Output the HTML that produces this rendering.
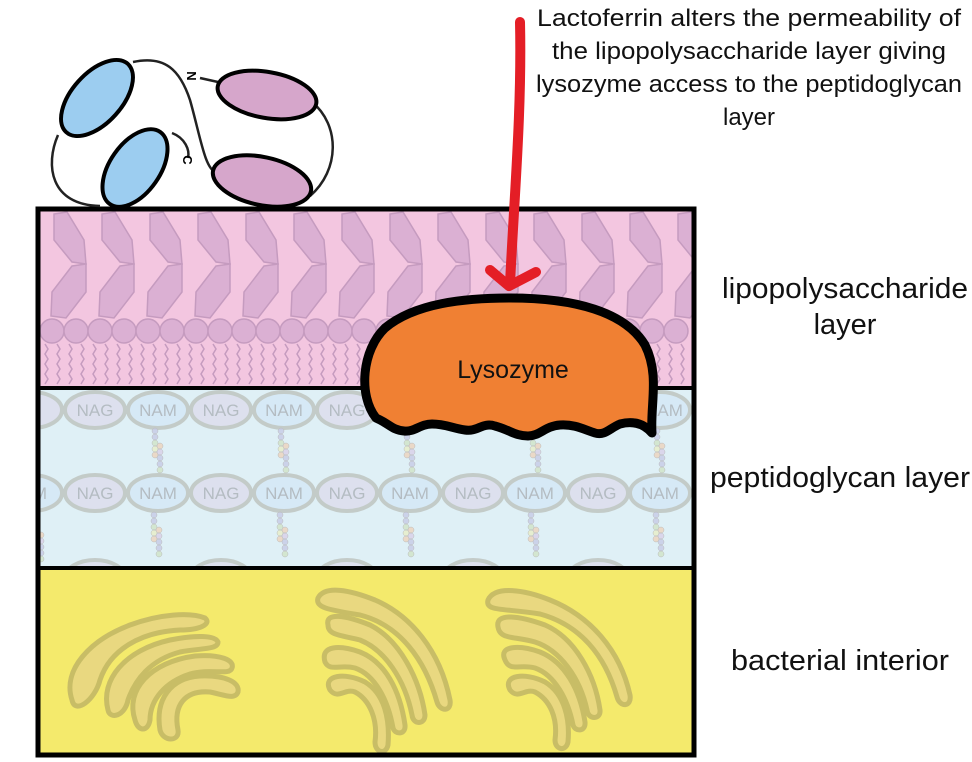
<!DOCTYPE html>
<html><head><meta charset="utf-8"><style>
html,body{margin:0;padding:0;background:#fff;}
svg{display:block;font-family:"Liberation Sans",sans-serif;}
</style></head><body>
<svg width="972" height="762" viewBox="0 0 972 762" xmlns="http://www.w3.org/2000/svg">
<defs>
<clipPath id="box"><rect x="38" y="209" width="656" height="546"/></clipPath>
<g id="col">
<path d="M6,214 L19,212 L36,240 L38,264 L24,262 L6,240 Z" fill="#dbb0d3" stroke="#c59bbf" stroke-width="1.5"/>
<path d="M24,266 L38,264 L38,292 L18,318 L3,316 L4,292 Z" fill="#dbb0d3" stroke="#c59bbf" stroke-width="1.5"/>
</g>
<g id="tail"><path d="M0,344 l3,5 l-3,5 l3,5 l-3,5 l3,5 l-3,5 l3,5 l-3,5" fill="none" stroke="#c59bbf" stroke-width="1.5"/></g>
<g id="beads" fill-opacity="0.8" stroke="#bbb" stroke-width="0.5">
<circle cx="0" cy="0" r="3" fill="#c6cbe6"/><circle cx="0" cy="6" r="3" fill="#c6cbe6"/><circle cx="0" cy="12" r="3" fill="#cfe3c7"/><circle cx="0" cy="18" r="3" fill="#e7edc7"/><circle cx="5" cy="15" r="3" fill="#ecd3bd"/><circle cx="0" cy="24" r="3" fill="#ecd3bd"/><circle cx="5" cy="21" r="3" fill="#d8d0e8"/><circle cx="5" cy="27" r="3" fill="#c6cbe6"/><circle cx="5" cy="33" r="3" fill="#c6cbe6"/><circle cx="5" cy="39" r="3" fill="#cfe3c7"/>
</g>
</defs>
<g clip-path="url(#box)">
<rect x="36" y="207" width="660" height="181" fill="#f3c6e0"/>
<g>
<use href="#col" x="48"/><use href="#col" x="96"/><use href="#col" x="144"/><use href="#col" x="192"/><use href="#col" x="240"/><use href="#col" x="288"/><use href="#col" x="336"/><use href="#col" x="384"/><use href="#col" x="432"/><use href="#col" x="480"/><use href="#col" x="528"/><use href="#col" x="576"/><use href="#col" x="624"/><use href="#col" x="672"/>
</g>
<g fill="#dbb0d3" stroke="#c59bbf" stroke-width="1.5">
<circle cx="52" cy="331" r="12"/><circle cx="76" cy="331" r="12"/><circle cx="100" cy="331" r="12"/><circle cx="124" cy="331" r="12"/><circle cx="148" cy="331" r="12"/><circle cx="172" cy="331" r="12"/><circle cx="196" cy="331" r="12"/><circle cx="220" cy="331" r="12"/><circle cx="244" cy="331" r="12"/><circle cx="268" cy="331" r="12"/><circle cx="292" cy="331" r="12"/><circle cx="316" cy="331" r="12"/><circle cx="340" cy="331" r="12"/><circle cx="364" cy="331" r="12"/><circle cx="388" cy="331" r="12"/><circle cx="412" cy="331" r="12"/><circle cx="436" cy="331" r="12"/><circle cx="460" cy="331" r="12"/><circle cx="484" cy="331" r="12"/><circle cx="508" cy="331" r="12"/><circle cx="532" cy="331" r="12"/><circle cx="556" cy="331" r="12"/><circle cx="580" cy="331" r="12"/><circle cx="604" cy="331" r="12"/><circle cx="628" cy="331" r="12"/><circle cx="652" cy="331" r="12"/><circle cx="676" cy="331" r="12"/>
</g>
<g>
<use href="#tail" x="45"/><use href="#tail" x="57"/><use href="#tail" x="69"/><use href="#tail" x="81"/><use href="#tail" x="93"/><use href="#tail" x="105"/><use href="#tail" x="117"/><use href="#tail" x="129"/><use href="#tail" x="141"/><use href="#tail" x="153"/><use href="#tail" x="165"/><use href="#tail" x="177"/><use href="#tail" x="189"/><use href="#tail" x="201"/><use href="#tail" x="213"/><use href="#tail" x="225"/><use href="#tail" x="237"/><use href="#tail" x="249"/><use href="#tail" x="261"/><use href="#tail" x="273"/><use href="#tail" x="285"/><use href="#tail" x="297"/><use href="#tail" x="309"/><use href="#tail" x="321"/><use href="#tail" x="333"/><use href="#tail" x="345"/><use href="#tail" x="357"/><use href="#tail" x="657"/><use href="#tail" x="669"/><use href="#tail" x="681"/>
</g>
<rect x="36" y="388" width="660" height="180" fill="#dff0f6"/>
<g stroke="#c3cbc8" stroke-width="4">
<ellipse cx="32" cy="410" rx="30" ry="18" fill="#dde0ee"/>
<ellipse cx="95" cy="410" rx="30" ry="18" fill="#dde0ee"/>
<ellipse cx="158" cy="410" rx="30" ry="18" fill="#d6e9f6"/>
<ellipse cx="221" cy="410" rx="30" ry="18" fill="#dde0ee"/>
<ellipse cx="284" cy="410" rx="30" ry="18" fill="#d6e9f6"/>
<ellipse cx="347" cy="410" rx="30" ry="18" fill="#dde0ee"/>
<ellipse cx="660" cy="410" rx="30" ry="18" fill="#d6e9f6"/>
<ellipse cx="32" cy="493" rx="30" ry="18" fill="#d6e9f6"/>
<ellipse cx="95" cy="493" rx="30" ry="18" fill="#dde0ee"/>
<ellipse cx="158" cy="493" rx="30" ry="18" fill="#d6e9f6"/>
<ellipse cx="221" cy="493" rx="30" ry="18" fill="#dde0ee"/>
<ellipse cx="284" cy="493" rx="30" ry="18" fill="#d6e9f6"/>
<ellipse cx="347" cy="493" rx="30" ry="18" fill="#dde0ee"/>
<ellipse cx="410" cy="493" rx="30" ry="18" fill="#d6e9f6"/>
<ellipse cx="473" cy="493" rx="30" ry="18" fill="#dde0ee"/>
<ellipse cx="535" cy="493" rx="30" ry="18" fill="#d6e9f6"/>
<ellipse cx="598" cy="493" rx="30" ry="18" fill="#dde0ee"/>
<ellipse cx="660" cy="493" rx="30" ry="18" fill="#d6e9f6"/>
<ellipse cx="95" cy="578" rx="30" ry="18" fill="#dde0ee"/>
<ellipse cx="221" cy="578" rx="30" ry="18" fill="#dde0ee"/>
<ellipse cx="347" cy="578" rx="30" ry="18" fill="#dde0ee"/>
<ellipse cx="473" cy="578" rx="30" ry="18" fill="#dde0ee"/>
<ellipse cx="598" cy="578" rx="30" ry="18" fill="#dde0ee"/>
</g>
<g fill="#b4bcc2" font-size="17" text-anchor="middle">
<text x="95" y="416">NAG</text><text x="158" y="416">NAM</text><text x="221" y="416">NAG</text><text x="284" y="416">NAM</text><text x="347" y="416">NAG</text><text x="664" y="416">NAM</text>
<text x="95" y="499">NAG</text><text x="158" y="499">NAM</text><text x="221" y="499">NAG</text><text x="284" y="499">NAM</text><text x="347" y="499">NAG</text><text x="410" y="499">NAM</text><text x="473" y="499">NAG</text><text x="535" y="499">NAM</text><text x="598" y="499">NAG</text><text x="660" y="499">NAM</text>
<text x="40" y="499">M</text>
</g>
<g>
<use href="#beads" x="155" y="431"/><use href="#beads" x="281" y="431"/><use href="#beads" x="407" y="431"/><use href="#beads" x="533" y="431"/><use href="#beads" x="657" y="431"/>
<use href="#beads" x="154" y="515"/><use href="#beads" x="280" y="515"/><use href="#beads" x="406" y="515"/><use href="#beads" x="531" y="515"/><use href="#beads" x="656" y="515"/><use href="#beads" x="36" y="520"/>
</g>
<rect x="36" y="568" width="660" height="189" fill="#f4ea6c"/>
<g fill="#e9d880" stroke="#c8bd66" stroke-width="5" stroke-linejoin="round">
<path d="M72,700 C62,670 90,640 130,625 C160,614 190,612 205,618 C212,624 200,630 180,630 C140,632 110,650 100,680 C95,700 75,715 72,700 Z"/>
<path d="M108,710 C100,680 125,650 170,640 C195,635 215,635 218,642 C218,650 200,648 180,652 C150,660 135,680 128,700 C125,716 110,720 108,710 Z"/>
<path d="M135,720 C125,690 150,662 195,656 C220,654 235,660 232,668 C230,676 210,668 190,674 C165,682 150,700 150,720 C148,732 138,732 135,720 Z"/>
<path d="M160,730 C155,700 170,678 200,676 C225,675 240,682 238,692 C235,700 225,695 210,692 C185,690 173,705 178,730 C180,742 163,742 160,730 Z"/>
<path d="M318,598 C325,585 350,590 375,600 C410,615 440,650 450,700 C452,712 440,712 437,702 C425,660 400,625 360,615 C330,610 315,608 318,598 Z"/>
<path d="M328,625 C325,612 345,615 370,625 C400,640 420,680 425,715 C425,725 413,725 412,715 C405,680 385,650 360,640 C340,635 328,635 328,625 Z"/>
<path d="M325,662 C320,645 340,645 360,652 C385,662 400,690 405,725 C406,735 395,735 393,728 C388,700 375,675 355,668 C340,664 330,672 325,662 Z"/>
<path d="M330,690 C322,675 345,672 365,682 C385,694 390,720 388,745 C386,755 375,753 375,742 C378,720 370,700 355,692 C345,688 338,700 330,690 Z"/>
<path d="M488,600 C495,585 525,590 550,600 C590,616 620,650 630,695 C632,707 620,708 617,697 C605,655 580,625 540,614 C505,608 485,612 488,600 Z"/>
<path d="M498,627 C495,612 520,616 545,625 C575,638 595,675 600,710 C601,720 588,720 587,710 C580,678 560,650 535,642 C515,636 500,640 498,627 Z"/>
<path d="M505,660 C498,645 520,645 540,652 C565,662 580,690 585,722 C586,732 575,732 573,725 C568,700 555,675 535,668 C520,664 510,672 505,660 Z"/>
<path d="M510,690 C502,675 525,672 545,682 C565,694 570,720 568,742 C566,752 555,750 555,740 C558,718 550,700 535,692 C525,688 518,700 510,690 Z"/>
</g>
</g>
<line x1="36" y1="388" x2="696" y2="388" stroke="#000" stroke-width="4"/>
<line x1="36" y1="568" x2="696" y2="568" stroke="#000" stroke-width="4"/>
<rect x="38" y="209" width="656" height="546" fill="none" stroke="#000" stroke-width="5"/>
<path d="M376,418 C358,395 362,350 385,328 C415,303 465,298 510,298 C575,298 625,312 645,345 C660,375 650,405 652,433 C645,425 635,420 620,424 C610,428 605,436 595,433 C585,430 575,424 560,425 C545,426 540,436 528,436 C515,436 510,430 495,426 C482,422 478,432 465,430 C452,428 445,424 432,424 C420,424 415,432 404,431 C392,430 390,424 376,418 Z" fill="#f08033" stroke="#000" stroke-width="9" stroke-linejoin="round"/>
<text x="513" y="378" font-size="25" text-anchor="middle" fill="#111">Lysozyme</text>
<path d="M520,22 C522,110 514,200 510,284" fill="none" stroke="#e41e26" stroke-width="10" stroke-linecap="round"/>
<path d="M490,270 L509,286 L536,272" fill="none" stroke="#e41e26" stroke-width="10" stroke-linecap="round" stroke-linejoin="round"/>
<g fill="none" stroke="#222" stroke-width="2.5">
<path d="M133,62 C165,55 180,70 190,100 C200,135 205,170 216,172"/>
<path d="M58,135 C45,165 50,205 100,206"/>
<path d="M172,133 C185,138 190,150 188,158"/>
<path d="M312,102 C340,125 340,170 310,196"/>
<path d="M200,78 L218,82"/>
</g>
<g stroke="#000" stroke-width="4">
<ellipse cx="97" cy="98" rx="46" ry="25" transform="rotate(-48 97 98)" fill="#9ccdf0"/>
<ellipse cx="135" cy="168" rx="44" ry="25" transform="rotate(-55 135 168)" fill="#9ccdf0"/>
<ellipse cx="267" cy="95" rx="50" ry="23" transform="rotate(10 267 95)" fill="#d6a6cb"/>
<ellipse cx="262" cy="181" rx="50" ry="24" transform="rotate(12 262 181)" fill="#d6a6cb"/>
</g>
<text x="192" y="81" font-size="13" font-weight="bold" transform="rotate(90 192 76)" text-anchor="middle">N</text>
<text x="188" y="165" font-size="13" font-weight="bold" transform="rotate(90 188 160)" text-anchor="middle">C</text>
<g font-size="24" text-anchor="middle" fill="#111">
<text x="749" y="26" textLength="424" lengthAdjust="spacingAndGlyphs">Lactoferrin alters the permeability of</text>
<text x="749" y="59" textLength="394" lengthAdjust="spacingAndGlyphs">the lipopolysaccharide layer giving</text>
<text x="749" y="92" textLength="426" lengthAdjust="spacingAndGlyphs">lysozyme access to the peptidoglycan</text>
<text x="749" y="125">layer</text>
</g>
<g font-size="29" text-anchor="middle" fill="#111">
<text x="845" y="298" textLength="246" lengthAdjust="spacingAndGlyphs">lipopolysaccharide</text>
<text x="845" y="334">layer</text>
<text x="840" y="487" textLength="260" lengthAdjust="spacingAndGlyphs">peptidoglycan layer</text>
<text x="840" y="670" textLength="218" lengthAdjust="spacingAndGlyphs">bacterial interior</text>
</g>
</svg>
</body></html>
